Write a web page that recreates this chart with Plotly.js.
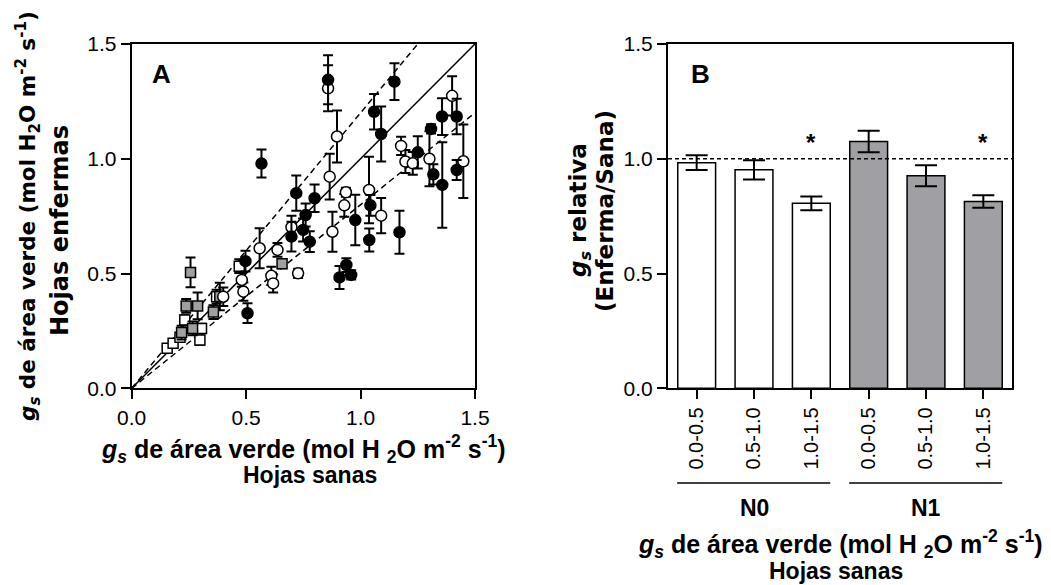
<!DOCTYPE html>
<html>
<head>
<meta charset="utf-8">
<script src="https://cdn.plot.ly/plotly-3.0.1.min.js"></script>
<style>html,body{margin:0;padding:0;background:#fff;}#chart{width:1051px;height:585px;}</style>
</head>
<body>
<div id="chart"></div>
<script>
// ---------- Panel A data (gs healthy leaves vs gs diseased leaves) ----------
const filledX = [0.858,1.148,1.059,1.090,0.567,0.719,0.799,0.760,0.749,0.698,0.778,0.497,0.506,0.977,1.043,1.038,0.938,0.908,0.959,1.170,1.250,1.308,1.356,1.420,1.318,1.357,1.420];
const filledY = [1.344,1.336,1.205,1.108,0.979,0.850,0.828,0.755,0.690,0.661,0.639,0.554,0.327,0.733,0.797,0.646,0.537,0.483,0.494,0.680,1.028,1.130,1.184,1.184,0.932,0.886,0.951];
const filledErr = [0.107,0.080,0.077,0.120,0.061,0.077,0.060,0.050,0.050,0.065,0.045,0.045,0.043,0.110,0.045,0.050,0.030,0.050,0.020,0.094,0.070,0.020,0.080,0.077,0.044,0.186,0.044];

const openX = [0.858,0.897,0.865,0.936,0.929,1.037,1.090,0.877,0.698,0.559,0.637,0.727,0.610,0.618,0.481,0.488,0.400,1.177,1.196,1.228,1.301,1.400,1.449];
const openY = [1.307,1.097,0.922,0.854,0.797,0.864,0.752,0.682,0.702,0.610,0.603,0.501,0.490,0.457,0.472,0.421,0.399,1.056,0.988,0.980,1.000,1.274,0.989];
const openErr = [0.100,0.113,0.100,0.020,0.050,0.145,0.077,0.087,0.050,0.087,0.030,0.020,0.040,0.040,0.030,0.040,0.040,0.040,0.050,0.050,0.120,0.085,0.160];

const graySqX = [0.257,0.238,0.288,0.357,0.218,0.266,0.657,0.385];
const graySqY = [0.505,0.359,0.359,0.332,0.243,0.261,0.543,0.400];
const graySqErr = [0.065,0.030,0.058,0.030,0.030,0.030,0.020,0.060];

const openSqX = [0.232,0.298,0.305,0.155,0.181,0.211,0.371,0.470];
const openSqY = [0.298,0.210,0.261,0.174,0.196,0.222,0.399,0.532];
const openSqErr = [0.020,0.020,0.020,0.010,0.010,0.010,0.030,0.030];

const refSlopes = [1, 1.2, 0.8];
const refDash = ['solid', '6px,4px', '6px,4px'];

// ---------- Panel B data (relative gs, diseased/healthy) ----------
const binLabels = ['0.0-0.5', '0.5-1.0', '1.0-1.5'];
const groupNames = ['N0', 'N1'];
const n0Rel = [0.983, 0.952, 0.806];
const n0Err = [0.032, 0.042, 0.030];
const n1Rel = [1.075, 0.926, 0.814];
const n1Err = [0.047, 0.046, 0.027];
const significant = [0, 0, 1, 0, 0, 1];
const refRatio = 1.0;

// ---------- build ----------
const FONT = 'Liberation Sans, Arial, Helvetica, sans-serif';
const VFONT = 'DejaVu Sans, Liberation Sans, Arial, sans-serif';
const W = 1051, H = 585;
const px = v => v / W;
const py = v => (H - v) / H;

const axMax = 1.5;
const traces = [];

refSlopes.forEach((s, i) => {
  const xe = Math.min(axMax, axMax / s);
  traces.push({
    x: [0, xe], y: [0, s * xe], mode: 'lines', xaxis: 'x', yaxis: 'y',
    line: {color: '#000', width: 1.5, dash: refDash[i]}, hoverinfo: 'skip'
  });
});

function pts(x, y, err, symbol, fill, size) {
  return {
    x: x, y: y, mode: 'markers', type: 'scatter', xaxis: 'x', yaxis: 'y',
    marker: {symbol: symbol, color: fill, size: size, line: {color: '#000', width: 1.5}},
    error_y: {type: 'data', array: err, visible: true, color: '#000', thickness: 2, width: 5}
  };
}
traces.push(pts(openSqX, openSqY, openSqErr, 'square', '#ffffff', 10));
traces.push(pts(graySqX, graySqY, graySqErr, 'square', '#a0a0a0', 10));
traces.push(pts(openX, openY, openErr, 'circle', '#ffffff', 11));
traces.push(pts(filledX, filledY, filledErr, 'circle', '#000000', 11));

const nb = binLabels.length;
const idx0 = binLabels.map((_, i) => i);
const idx1 = binLabels.map((_, i) => i + nb);
const allIdx = idx0.concat(idx1);
const allTicks = binLabels.concat(binLabels);

function bars(xs, ys, es, fill) {
  return {
    type: 'bar', x: xs, y: ys, xaxis: 'x2', yaxis: 'y2', width: 0.66,
    marker: {color: fill, line: {color: '#000', width: 1.5}},
    error_y: {type: 'data', array: es, visible: true, color: '#000', thickness: 2, width: 11}
  };
}
traces.push(bars(idx0, n0Rel, n0Err, '#ffffff'));
traces.push(bars(idx1, n1Rel, n1Err, '#a0a0a4'));

const yDom = [py(388.3), py(44)];
const axisCommon = {
  showline: true, linewidth: 2, linecolor: '#000', mirror: true,
  ticks: 'outside', ticklen: 9, tickwidth: 2, tickcolor: '#000',
  showgrid: false, zeroline: false, fixedrange: true,
  tickfont: {family: FONT, size: 21, color: '#000'}
};

const t1Font = {family: FONT, size: 25, color: '#000'};
const t2Font = {family: FONT, size: 23, color: '#000'};
const gsTitle = (gap) => '<b><i>g<sub>s</sub></i> de área verde (mol H' + gap + '<sub>2</sub>O m<sup>-2</sup> s<sup>-1</sup>)</b>';

const annotations = [
  {text: '<b>A</b>', x: px(161), y: py(74), xref: 'paper', yref: 'paper', showarrow: false, xanchor: 'center', yanchor: 'middle', font: {family: FONT, size: 26, color: '#000'}},
  {text: '<b>B</b>', x: px(700), y: py(74), xref: 'paper', yref: 'paper', showarrow: false, xanchor: 'center', yanchor: 'middle', font: {family: FONT, size: 26, color: '#000'}},
  // Panel A titles
  {text: gsTitle(''), x: px(28), y: py(216), xref: 'paper', yref: 'paper', showarrow: false, textangle: -90, xanchor: 'center', yanchor: 'middle', font: {family: VFONT, size: 21.5, color: '#000'}},
  {text: '<b>Hojas enfermas</b>', x: px(60), y: py(231), xref: 'paper', yref: 'paper', showarrow: false, textangle: -90, xanchor: 'center', yanchor: 'middle', font: {family: VFONT, size: 24, color: '#000'}},
  {text: gsTitle(' '), x: px(303), y: py(449), xref: 'paper', yref: 'paper', showarrow: false, xanchor: 'center', yanchor: 'middle', font: t1Font},
  {text: '<b>Hojas sanas</b>', x: px(310), y: py(475), xref: 'paper', yref: 'paper', showarrow: false, xanchor: 'center', yanchor: 'middle', font: t2Font},
  // Panel B titles
  {text: '<b><i>g<sub>s</sub></i> relativa</b>', x: px(580), y: py(210), xref: 'paper', yref: 'paper', showarrow: false, textangle: -90, xanchor: 'center', yanchor: 'middle', font: {family: VFONT, size: 23, color: '#000'}},
  {text: '<b>(Enferma/Sana)</b>', x: px(605), y: py(211), xref: 'paper', yref: 'paper', showarrow: false, textangle: -90, xanchor: 'center', yanchor: 'middle', font: {family: VFONT, size: 23, color: '#000'}},
  {text: gsTitle(' '), x: px(840), y: py(544), xref: 'paper', yref: 'paper', showarrow: false, xanchor: 'center', yanchor: 'middle', font: t1Font},
  {text: '<b>Hojas sanas</b>', x: px(836), y: py(571), xref: 'paper', yref: 'paper', showarrow: false, xanchor: 'center', yanchor: 'middle', font: t2Font}
];
groupNames.forEach((g, gi) => {
  annotations.push({text: '<b>' + g + '</b>', x: gi * nb + (nb - 1) / 2, y: py(508), xref: 'x2', yref: 'paper', showarrow: false, xanchor: 'center', yanchor: 'middle', font: {family: FONT, size: 23, color: '#000'}});
});
significant.forEach((s, i) => {
  if (s) annotations.push({text: '<b>*</b>', x: allIdx[i], y: 1.07, xref: 'x2', yref: 'y2', showarrow: false, xanchor: 'center', yanchor: 'middle', font: {family: FONT, size: 24, color: '#000'}});
});

const shapes = [
  {type: 'line', xref: 'x2 domain', yref: 'y2', x0: 0, x1: 1, y0: refRatio, y1: refRatio, line: {color: '#000', width: 1.5, dash: '4px,3px'}, layer: 'above'}
];
groupNames.forEach((g, gi) => {
  shapes.push({type: 'line', xref: 'x2', yref: 'paper', x0: gi * nb - 0.34, x1: gi * nb + nb - 1 + 0.33, y0: py(483), y1: py(483), line: {color: '#000', width: 1.5}});
});

const layout = {
  width: W, height: H,
  margin: {l: 0, r: 0, t: 0, b: 0},
  paper_bgcolor: '#fff', plot_bgcolor: '#fff',
  showlegend: false, barmode: 'overlay',
  font: {family: FONT, color: '#000'},
  xaxis: Object.assign({}, axisCommon, {domain: [px(131.7), px(475)], range: [0, axMax], tickvals: [0, 0.5, 1, 1.5], tickformat: '.1f', anchor: 'y'}),
  yaxis: Object.assign({}, axisCommon, {domain: yDom, range: [0, axMax], tickvals: [0, 0.5, 1, 1.5], tickformat: '.1f', anchor: 'x'}),
  xaxis2: Object.assign({}, axisCommon, {domain: [px(668), px(1012)], range: [-0.5, allIdx.length - 0.5], tickvals: allIdx, ticktext: allTicks, tickangle: -90, anchor: 'y2', tickfont: {family: FONT, size: 20, color: '#000'}}),
  yaxis2: Object.assign({}, axisCommon, {domain: yDom, range: [0, 1.5], tickvals: [0, 0.5, 1, 1.5], tickformat: '.1f', anchor: 'x2'}),
  annotations: annotations,
  shapes: shapes
};

Plotly.newPlot('chart', traces, layout, {staticPlot: true, displayModeBar: false});
</script>
</body>
</html>
